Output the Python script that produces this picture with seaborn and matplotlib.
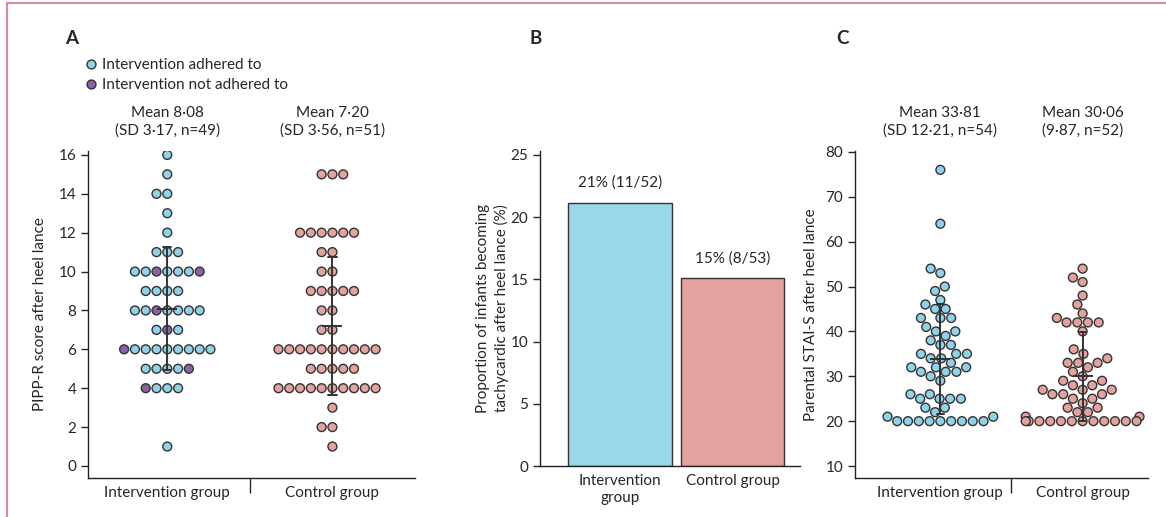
import numpy as np
import pandas as pd
import matplotlib
matplotlib.use("Agg")
import matplotlib.pyplot as plt
import seaborn as sns
from matplotlib.lines import Line2D
from matplotlib.ticker import FixedLocator

# ---- data ----
groups = ["Intervention group", "Control group"]

# A: PIPP-R score after heel lance
pipp_adhered = [16, 15, 14, 14, 13, 12, 11, 11, 11, 10, 10, 10, 10, 10,
                9, 9, 9, 9, 8, 8, 8, 8, 8, 8, 7, 7,
                6, 6, 6, 6, 6, 6, 6, 6, 5, 5, 5, 5, 4, 4, 4, 1]
pipp_not_adhered = [10, 10, 8, 7, 6, 5, 4]
pipp_control = [15, 15, 15, 12, 12, 12, 12, 12, 12, 11, 11, 10, 10,
                9, 9, 9, 9, 9, 8, 8, 7, 7,
                6, 6, 6, 6, 6, 6, 6, 6, 6, 6, 5, 5, 5, 5, 5,
                4, 4, 4, 4, 4, 4, 4, 4, 4, 4, 3, 2, 2, 1]
pipp_text = ["Mean 8·08\n(SD 3·17, n=49)", "Mean 7·20\n(SD 3·56, n=51)"]

# B: tachycardia
bar_labels = ["Intervention\ngroup", "Control group"]
bar_values = [100 * 11 / 52, 100 * 8 / 53]
bar_text = ["21% (11/52)", "15% (8/53)"]

# C: parental STAI-S after heel lance
stai_int = [76, 64, 54, 53, 50, 49, 47, 46, 45, 45, 43, 43, 43, 41, 40, 40,
            39, 38, 37, 37, 35, 35, 35, 34, 34, 33, 32, 32, 32, 31, 31, 31,
            30, 29, 26, 26, 25, 25, 25, 25, 23, 23, 22, 21, 21,
            20, 20, 20, 20, 20, 20, 20, 20, 20]
stai_control = [54, 52, 51, 48, 46, 44, 43, 42, 42, 42, 42, 40, 36, 35, 34,
                33, 33, 33, 32, 31, 30, 29, 29, 28, 28, 27, 27, 27, 26, 26, 26,
                25, 25, 24, 23, 23, 22, 22, 21, 21,
                20, 20, 20, 20, 20, 20, 20, 20, 20, 20, 20, 20]
stai_text = ["Mean 33·81\n(SD 12·21, n=54)", "Mean 30·06\n(9·87, n=52)"]

BLUE = "#90d3e8"
PURPLE = "#8a62a8"
PINK = "#e4a29f"
BAR_BLUE = "#9ad7ea"
BAR_PINK = "#e4a19e"
EDGE = "#333333"
FRAME = "#d98aa6"
FS = 11

sns.set_style("ticks")
plt.rcParams["font.family"] = ["Lato", "DejaVu Sans"]
plt.rcParams["font.size"] = FS
plt.rcParams["axes.linewidth"] = 1.0
plt.rcParams["axes.edgecolor"] = "#222222"

fig = plt.figure(figsize=(11.66, 5.17), dpi=100)
axA = fig.add_axes([0.0755, 0.0754, 0.2804, 0.6325])
axB = fig.add_axes([0.4631, 0.0986, 0.2230, 0.6093])
axC = fig.add_axes([0.7333, 0.0754, 0.2513, 0.6325])

palette = {"adhered": BLUE, "not adhered": PURPLE, "control": PINK}


def dot_panel(ax, df, texts):
    sns.swarmplot(data=df, x="group", y="value", hue="kind", palette=palette,
                  order=groups, size=6.4, edgecolor=EDGE, linewidth=1.0,
                  legend=False, ax=ax)
    # mean +/- SD drawn on top of the dots
    sns.pointplot(data=df, x="group", y="value", order=groups, errorbar="sd",
                  color=EDGE, markers="_", markersize=15, markeredgewidth=1.4,
                  linestyle="none", capsize=0.05, zorder=4,
                  err_kws={"linewidth": 1.4, "zorder": 4}, ax=ax)
    for i, t in enumerate(texts):
        ax.text(i, 1.04, t, transform=ax.get_xaxis_transform(), ha="center",
                va="bottom", linespacing=1.35, fontsize=FS)
    ax.set_xlabel("")
    ax.tick_params(axis="x", which="major", length=0, pad=6)
    ax.xaxis.set_minor_locator(FixedLocator([0.5]))
    ax.tick_params(axis="x", which="minor", length=11, width=1.0)
    sns.despine(ax=ax)


# ---- A ----
dfA = pd.DataFrame({
    "group": [groups[0]] * len(pipp_adhered + pipp_not_adhered) + [groups[1]] * len(pipp_control),
    "value": pipp_adhered + pipp_not_adhered + pipp_control,
    "kind": ["adhered"] * len(pipp_adhered) + ["not adhered"] * len(pipp_not_adhered)
            + ["control"] * len(pipp_control),
})
dot_panel(axA, dfA, pipp_text)
axA.set_ylim(-0.62, 16.2)
axA.set_xlim(-0.48, 1.5)
axA.set_yticks(range(0, 17, 2))
axA.set_ylabel("PIPP-R score after heel lance")
axA.yaxis.set_label_coords(-0.125, 0.5)

handles = [Line2D([], [], marker="o", linestyle="none", markersize=6.4,
                  markerfacecolor=c, markeredgecolor=EDGE, markeredgewidth=1.0)
           for c in (BLUE, PURPLE)]
fig.legend(handles, ["Intervention adhered to", "Intervention not adhered to"],
           loc="upper left", bbox_to_anchor=(0.073, 0.888), frameon=False,
           handlelength=0.8, handletextpad=0.3, labelspacing=0.42,
           borderaxespad=0, borderpad=0, fontsize=FS)

# ---- B ----
dfB = pd.DataFrame({"group": bar_labels, "value": bar_values})
sns.barplot(data=dfB, x="group", y="value", hue="group",
            palette=[BAR_BLUE, BAR_PINK], saturation=1, width=0.92,
            edgecolor=EDGE, linewidth=1.0, legend=False, ax=axB)
for i, (v, t) in enumerate(zip(bar_values, bar_text)):
    axB.text(i, v + 1.0, t, ha="center", va="bottom", fontsize=FS)
axB.set_ylim(0, 25.3)
axB.set_xlim(-0.71, 1.6)
axB.set_yticks(range(0, 26, 5))
axB.set_xlabel("")
axB.set_ylabel("Proportion of infants becoming\ntachycardic after heel lance (%)",
               linespacing=1.3)
axB.yaxis.set_label_coords(-0.12, 0.5)
axB.tick_params(axis="x", length=0, pad=6)
sns.despine(ax=axB)

# ---- C ----
dfC = pd.DataFrame({
    "group": [groups[0]] * len(stai_int) + [groups[1]] * len(stai_control),
    "value": stai_int + stai_control,
    "kind": ["adhered"] * len(stai_int) + ["control"] * len(stai_control),
})
dot_panel(axC, dfC, stai_text)
axC.set_ylim(7.33, 80.2)
axC.set_xlim(-0.6, 1.46)
axC.set_yticks(range(10, 81, 10))
axC.set_ylabel("Parental STAI-S after heel lance")
axC.yaxis.set_label_coords(-0.125, 0.5)

for ax in (axA, axB, axC):
    ax.tick_params(axis="y", length=5, width=1.0, labelsize=FS)
    ax.tick_params(axis="x", labelsize=FS)

# panel letters
for x, s in [(0.0557, "A"), (0.4545, "B"), (0.717, "C")]:
    fig.text(x, 0.926, s, fontsize=13.5, fontweight="bold", ha="left", va="center")

# figure frame
fig.add_artist(Line2D([0.006, 0.006], [0, 0.994], transform=fig.transFigure,
                      color=FRAME, linewidth=1.5))
fig.add_artist(Line2D([0.006, 1], [0.994, 0.994], transform=fig.transFigure,
                      color=FRAME, linewidth=1.5))

fig.savefig("out.png", dpi=100)
